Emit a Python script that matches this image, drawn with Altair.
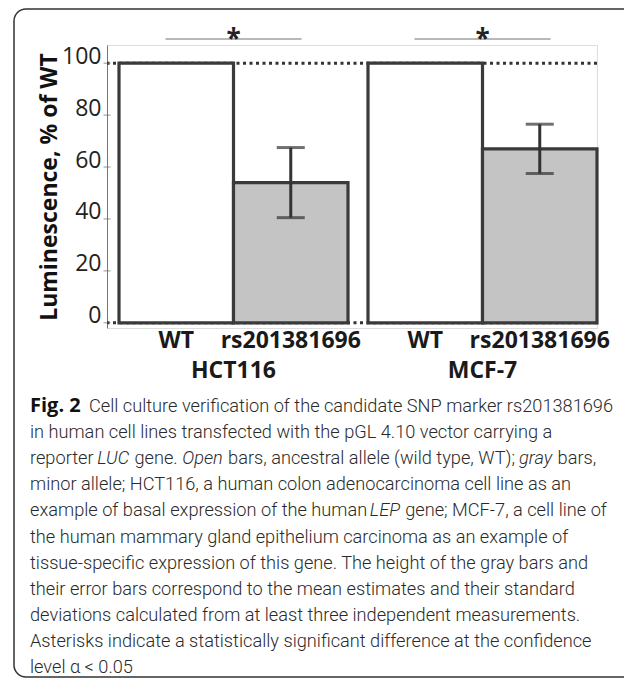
import altair as alt
import pandas as pd

# ---- data ----
cells = ["HCT116", "MCF-7"]
alleles = ["WT", "rs201381696"]
bar_cell = ["HCT116", "HCT116", "MCF-7", "MCF-7"]
bar_allele = ["WT", "rs201381696", "WT", "rs201381696"]
bar_mean = [100, 54, 100, 67]
bar_sd = [0, 13.5, 0, 9.5]
y_ticks = [0, 20, 40, 60, 80, 100]
sig_marker = ["*", "*"]

caption_first_bold = "Fig. 2"
# words between underscores are italic
caption_lines = [
    "Cell culture verification of the candidate SNP marker rs201381696",
    "in human cell lines transfected with the pGL 4.10 vector carrying a",
    "reporter _LUC_ gene. _Open_ bars, ancestral allele (wild type, WT); _gray_ bars,",
    "minor allele; HCT116, a human colon adenocarcinoma cell line as an",
    "example of basal expression of the human _LEP_ gene; MCF-7, a cell line of",
    "the human mammary gland epithelium carcinoma as an example of",
    "tissue-specific expression of this gene. The height of the gray bars and",
    "their error bars correspond to the mean estimates and their standard",
    "deviations calculated from at least three independent measurements.",
    "Asterisks indicate a statistically significant difference at the confidence",
    "level \u03b1 < 0.05",
]

# ---- layout helpers (approximate Roboto advance widths, em units) ----
CAP_FONT = "Roboto"
CAP_SIZE = 18.2
LIGHT_SCALE = 0.978
_w = {
    " ": .248, "a": .544, "b": .561, "c": .523, "d": .564, "e": .530, "f": .347,
    "g": .561, "h": .551, "i": .243, "j": .239, "k": .507, "l": .243, "m": .876,
    "n": .552, "o": .570, "p": .561, "q": .568, "r": .338, "s": .516, "t": .327,
    "u": .551, "v": .484, "w": .737, "x": .496, "y": .473, "z": .496,
    "A": .652, "B": .624, "C": .651, "D": .656, "E": .568, "F": .553, "G": .682,
    "H": .713, "I": .272, "L": .539, "M": .873, "N": .713, "O": .688, "P": .631,
    "S": .594, "T": .598, "U": .648, "W": .887, ".": .263, ",": .192, ";": .212,
    "(": .342, ")": .348, "-": .276, "<": .507, "\u03b1": .568,
}


def text_w(s, size):
    return sum(_w.get(ch, .561) for ch in s) * size * LIGHT_SCALE


LINE0_X, LINE_X, LINE_Y0, LINE_DY = -18, -77, 367, 26.1
rows = []
for i, line in enumerate(caption_lines):
    cursor = LINE0_X if i == 0 else LINE_X
    for j, seg in enumerate(line.split("_")):
        if not seg:
            continue
        lead = len(seg) - len(seg.lstrip(" "))
        cursor += text_w(" " * lead, CAP_SIZE)
        body = seg.strip(" ")
        rows.append({"text": body, "px": cursor, "py": LINE_Y0 + LINE_DY * i,
                     "italic": j % 2 == 1})
        cursor += text_w(seg.lstrip(" "), CAP_SIZE)
cap = pd.DataFrame(rows)

bars = pd.DataFrame({"cell": bar_cell, "allele": bar_allele,
                     "mean": bar_mean, "sd": bar_sd})
bars["lo"] = bars["mean"] - bars["sd"]
bars["hi"] = bars["mean"] + bars["sd"]
errs = bars[bars["sd"] > 0]
sig = pd.DataFrame({"cell": cells, "mark": sig_marker})
labels = pd.DataFrame({"cell": bar_cell, "allele": bar_allele})
groups = pd.DataFrame({"cell": cells})
ticks = pd.DataFrame({"v": y_ticks})
one = pd.DataFrame({"k": [0]})

W, H = 490, 283
PL, PT = 99, 37
SVG_W, SVG_H = 616, 670

FONT = "Open Sans"

xs = alt.X("cell:N", sort=cells, axis=None,
           scale=alt.Scale(paddingInner=0.0803, paddingOuter=0.0241, align=1))
xo = alt.XOffset("allele:N", sort=alleles,
                 scale=alt.Scale(paddingInner=0, paddingOuter=0))
ys = alt.Y("mean:Q", scale=alt.Scale(domain=[-2, 107], nice=False, zero=False),
           axis=alt.Axis(values=y_ticks, title="Luminescence, % of WT",
                         titleFont=FONT, titleFontSize=23, titleFontWeight="bold",
                         titleColor="#111", titlePadding=0,
                         labelFont=FONT, labelFontSize=23, labelColor="#222",
                         labelBaseline="alphabetic", labelPadding=6,
                         ticks=False, domainColor="#777", domainWidth=1,
                         grid=False))

base = alt.Chart(bars)

dot100 = alt.Chart(one).mark_rule(color="#333", strokeWidth=3, strokeDash=[3, 3.5]).encode(
    y=alt.datum(100, type="quantitative"))
dot0 = alt.Chart(one).mark_rule(color="#333", strokeWidth=3, strokeDash=[3, 3.5]).encode(
    y=alt.datum(0, type="quantitative"))

axis_ticks = alt.Chart(ticks).mark_tick(color="#666", thickness=1, size=7,
                                        orient="horizontal").encode(
    x=alt.value(0), y=alt.Y("v:Q"))

bar_layer = base.mark_bar(stroke="#3a3a3a", strokeWidth=3.2).encode(
    x=xs, xOffset=xo, y=ys, y2=alt.datum(0),
    fill=alt.Fill("allele:N", sort=alleles,
                  scale=alt.Scale(domain=alleles, range=["#ffffff", "#c4c4c4"]),
                  legend=None))

err_stem = alt.Chart(errs).mark_rule(color="#333", strokeWidth=3).encode(
    x=xs, xOffset=xo, y="lo:Q", y2="hi:Q")
err_cap_hi = alt.Chart(errs).mark_tick(color="#333", thickness=3, size=28,
                                       orient="horizontal").encode(
    x=xs, xOffset=xo, y="hi:Q")
err_cap_lo = alt.Chart(errs).mark_tick(color="#333", thickness=3, size=28,
                                       orient="horizontal").encode(
    x=xs, xOffset=xo, y="lo:Q")

sig_line = alt.Chart(sig).mark_tick(color="#777", thickness=1.5, size=136,
                                    orient="horizontal").encode(
    x=xs, y=alt.datum(109.3))
sig_star = alt.Chart(sig).mark_text(font=FONT, fontSize=26, fontWeight="bold",
                                    color="#222", baseline="alphabetic",
                                    align="center").encode(
    x=xs, y=alt.datum(106.0), text="mark:N")

allele_lbl = alt.Chart(labels).mark_text(font=FONT, fontSize=23, fontWeight="bold",
                                         color="#1a1a1a", baseline="alphabetic",
                                         align="center").encode(
    x=xs, xOffset=xo, y=alt.value(303), text="allele:N")
group_lbl = alt.Chart(groups).mark_text(font=FONT, fontSize=23, fontWeight="bold",
                                        color="#1a1a1a", baseline="alphabetic",
                                        align="center").encode(
    x=xs, y=alt.value(333), text="cell:N")

fig_bold = alt.Chart(one).mark_text(font=FONT, fontSize=20, fontWeight="bold",
                                    color="#111", baseline="alphabetic",
                                    align="left", text=caption_first_bold).encode(
    x=alt.value(-77), y=alt.value(367))

cap_regular = alt.Chart(cap).transform_filter("!datum.italic").mark_text(
    font=CAP_FONT, fontSize=CAP_SIZE, fontWeight=300, color="#2a2a2a",
    baseline="alphabetic", align="left").encode(
    x=alt.X("px:Q", scale=None), y=alt.Y("py:Q", scale=None), text="text:N")
cap_italic = alt.Chart(cap).transform_filter("datum.italic").mark_text(
    font=CAP_FONT, fontSize=CAP_SIZE, fontWeight=300, fontStyle="italic",
    color="#2a2a2a", baseline="alphabetic", align="left").encode(
    x=alt.X("px:Q", scale=None), y=alt.Y("py:Q", scale=None), text="text:N")

border = alt.Chart(one).mark_rect(filled=False, stroke="#333", strokeWidth=1.5,
                                  cornerRadius=12).encode(
    x=alt.value(-93), x2=alt.value(540), y=alt.value(-36), y2=alt.value(632))

chart = alt.layer(
    border, dot100, dot0, bar_layer, axis_ticks, err_stem, err_cap_hi, err_cap_lo,
    sig_line, sig_star, allele_lbl, group_lbl, fig_bold, cap_regular, cap_italic
).properties(
    width=W, height=H,
    autosize=alt.AutoSizeParams(type="none"),
    padding={"left": PL, "top": PT, "right": SVG_W - PL - W, "bottom": SVG_H - PT - H},
).configure_view(stroke=None).configure(background="white")

chart.save("out.html", embed_options={"renderer": "svg", "actions": False})
